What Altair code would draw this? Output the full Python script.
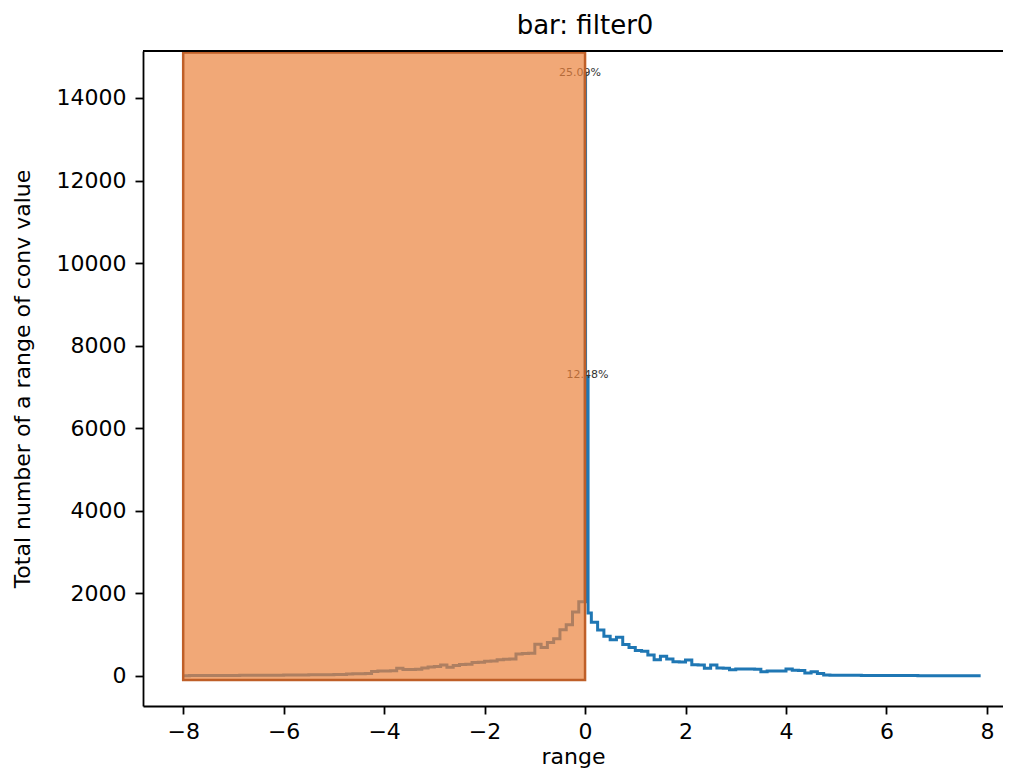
import altair as alt
import pandas as pd
import numpy as np

# ---------------- data ----------------
# bin starts (width 0.125) on the negative side
left_x = list(np.arange(-8.0, 0.0, 0.125))
left_counts = [8, 9, 10, 10, 11, 12, 12, 13, 14, 15, 15, 16, 17, 18, 19, 20,
               21, 22, 24, 25, 27, 28, 30, 32, 34, 36,
               48, 52, 55, 58,
               110, 118, 122, 128,
               185,
               160, 158, 165,
               195, 215, 230,
               265, 210, 256, 280, 285,
               325, 335, 355, 365,
               395, 405, 410,
               530, 545, 550,
               770, 690, 810, 900, 1120, 1240, 1550, 1800]

# the spike around zero
spike_x = [0.0, 0.01, 0.06]
spike_counts = [14600, 7262, 1525]

# bin starts on the positive side
right_x = list(np.arange(0.125, 8.0, 0.125))
right_counts = [1300, 1115, 960, 875, 940, 760, 690, 615, 600, 510, 395, 480,
                410, 345, 340, 390, 270, 265, 190, 265, 195, 190, 150, 172,
                168, 170, 165, 100, 122, 118, 120, 170, 140, 135, 70, 100,
                60, 25,
                20, 18, 17, 16, 15, 14, 13, 12, 12, 11, 10, 10, 9, 9, 8, 8,
                7, 7, 6, 6, 5, 5, 5, 4, 4]

ann_x = [-0.1, 0.05]
ann_y = [14600, 7300]
ann_text = ["25.09%", "12.48%"]

rect_x = [-8.0]
rect_x2 = [0.0]
rect_y = [-100]
rect_y2 = [15100]

x_ticks = [-8, -6, -4, -2, 0, 2, 4, 6, 8]
y_ticks = [0, 2000, 4000, 6000, 8000, 10000, 12000, 14000]

# ---------------- tables ----------------
hist = pd.DataFrame({
    "range": left_x + spike_x + right_x,
    "count": left_counts + spike_counts + right_counts,
})
ann = pd.DataFrame({"x": ann_x, "y": ann_y, "t": ann_text})
rect = pd.DataFrame({"x": rect_x, "x2": rect_x2, "y": rect_y, "y2": rect_y2})

FONT = "DejaVu Sans"
W, H = 860, 655

xscale = alt.Scale(domain=[-8.80, 8.32], nice=False, zero=False)
yscale = alt.Scale(domain=[-727, 15137], nice=False, zero=False)

axis_style = dict(
    grid=False, format="d",
    labelFont=FONT, labelFontSize=22, labelColor="black",
    titleFont=FONT, titleFontSize=22, titleFontWeight="normal", titleColor="black",
    domainColor="black", domainWidth=1.8,
    tickColor="black", tickWidth=1.8, tickSize=8,
)
xaxis = alt.Axis(values=x_ticks, title="range", labelPadding=7, titlePadding=4,
                 **axis_style)
yaxis = alt.Axis(values=y_ticks, title="Total number of a range of conv value",
                 labelPadding=9, titlePadding=22, **axis_style)

line = alt.Chart(hist).mark_line(
    interpolate="step-after", color="#1f77b4", strokeWidth=3
).encode(
    x=alt.X("range:Q", scale=xscale, axis=xaxis),
    y=alt.Y("count:Q", scale=yscale, axis=yaxis),
)

text = alt.Chart(ann).mark_text(
    font=FONT, fontSize=11, color="#333333", align="center", baseline="middle"
).encode(
    x=alt.X("x:Q", scale=xscale),
    y=alt.Y("y:Q", scale=yscale),
    text="t:N",
)

box = alt.Chart(rect).mark_rect(
    color="#EB833D", fillOpacity=0.7, stroke="#BF5F28", strokeWidth=2.5,
    strokeOpacity=1
).encode(
    x=alt.X("x:Q", scale=xscale),
    x2="x2:Q",
    y=alt.Y("y:Q", scale=yscale),
    y2="y2:Q",
)

top_line = alt.Chart(rect).mark_rule(color="black", strokeWidth=1.8).encode(
    x=alt.value(0), x2=alt.value(W), y=alt.value(0)
)

chart = alt.layer(line, text, box, top_line).properties(
    width=W,
    height=H,
    background="white",
    title=alt.TitleParams("bar: filter0", font=FONT, fontSize=26,
                          fontWeight="normal", color="black", offset=11, dx=12),
    padding={"left": 135, "top": 43, "right": 0, "bottom": 68},
    autosize=alt.AutoSizeParams(type="none"),
).configure_view(
    stroke=None
)

chart.save("out.html", embed_options={"renderer": "svg", "actions": False})
